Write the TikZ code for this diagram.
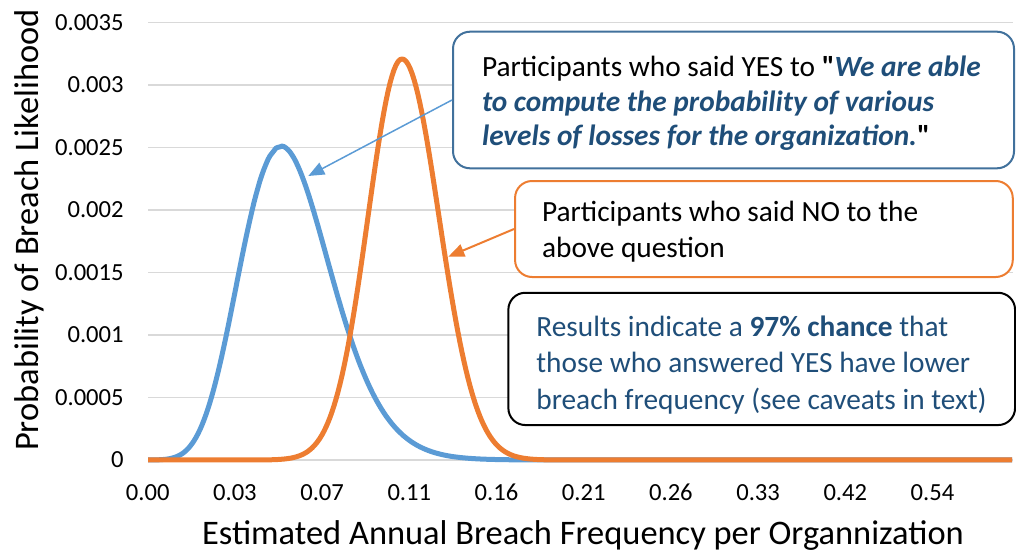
\documentclass[tikz,border=0pt]{standalone}
\usepackage{fontspec}
\setmainfont{Carlito}[Ligatures=TeXOff]
\usetikzlibrary{arrows.meta}
\definecolor{cblue}{HTML}{5B9BD5}
\definecolor{corange}{HTML}{ED7D31}
\definecolor{bxblue}{HTML}{41719C}
\definecolor{dkblue}{HTML}{1F4E79}
\definecolor{gridgray}{HTML}{D9D9D9}
\begin{document}
\begin{tikzpicture}[x=0.02cm,y=-0.02cm,
  gridline/.style={draw=gridgray, line width=0.026cm},
  curve/.style={line width=0.1cm, line join=round},
  ticklab/.style={font=\fontsize{14}{17}\selectfont, inner sep=0pt},
  axlab/.style={font=\fontsize{19.6}{23}\selectfont, inner sep=0pt},
  callout/.style={draw, line width=0.04cm, rounded corners=0.34cm, fill=white, inner sep=0pt},
  boxtext/.style={align=left, anchor=west, inner sep=0pt},
  pointer/.style={-{Triangle[length=0.32cm,width=0.26cm]}},
]
\useasboundingbox (0,0) rectangle (1016,554);
% grid
\foreach \i in {0,...,7}
  \draw[gridline] (148,{460-62.5*\i}) -- (1013,{460-62.5*\i});
% y tick labels
\foreach \i/\l in {0/0,1/0.0005,2/0.001,3/0.0015,4/0.002,5/0.0025,6/0.003,7/0.0035}
  \node[ticklab, anchor=east] (yt\i) at (124,{460-62.5*\i}) {\l};
% x tick labels
\foreach \i/\l in {0/0.00,1/0.03,2/0.07,3/0.11,4/0.16,5/0.21,6/0.26,7/0.33,8/0.42,9/0.54}
  \node[ticklab] (xt\i) at ({147.7+87.2*\i},492.7) {\l};
% axis titles
\node[axlab] (xlab) at (583,535) {Estimated Annual Breach Frequency per Organnization};
\node[axlab, rotate=90] (ylab) at (29,230) {Probability of Breach Likelihood};
% curves
\draw[curve, cblue] plot[domain=148:1012, samples=433]
  (\x,{460-314*exp(max(-9,16*(ln((\x-100)/181)-(\x-100)/181+1)))});
\draw[curve, corange] plot[domain=148:1012, samples=433]
  (\x,{460-401*exp(max(-9,-0.5*((\x-402)/(\x<402 ? 34 : 37))*((\x-402)/(\x<402 ? 34 : 37))))});
% callout boxes
\node[callout, draw=bxblue, minimum width={561*0.02cm}, minimum height={136.6*0.02cm}] (yesbox) at (733.5,100) {};
\node[callout, draw=corange, minimum width={497.7*0.02cm}, minimum height={96*0.02cm}] (nobox) at (763.9,229) {};
\node[callout, draw=black, minimum width={506.7*0.02cm}, minimum height={132.3*0.02cm}] (resbox) at (761.7,358.9) {};
% pointers
\coordinate (bluetip) at (308.3,176);
\coordinate (orangetip) at (448.3,256.7);
\draw[pointer, cblue, line width=0.03cm] (yesbox.west) -- (bluetip);
\draw[pointer, corange, line width=0.04cm] (nobox.west) -- (orangetip);
% texts
\node[boxtext, font=\fontsize{16.7}{19.8}\selectfont] (yestext) at (481.7,103.3)
  {Participants who said YES to \textbf{"}\textcolor{dkblue}{\textbf{\textit{We are able}}}\\
   \textcolor{dkblue}{\textbf{\textit{to compute the probability of various}}}\\
   \textcolor{dkblue}{\textbf{\textit{levels of losses for the organization.}}}\textbf{"}};
\node[boxtext, font=\fontsize{16.7}{20.8}\selectfont] (notext) at (541.7,231.7)
  {Participants who said NO to the\\above question};
\node[boxtext, font=\fontsize{16.7}{20.8}\selectfont, text=dkblue] (restext) at (536,365)
  {Results indicate a \textbf{97\% chance} that\\those who answered YES have lower\\breach frequency (see caveats in text)};
\end{tikzpicture}
\end{document}
